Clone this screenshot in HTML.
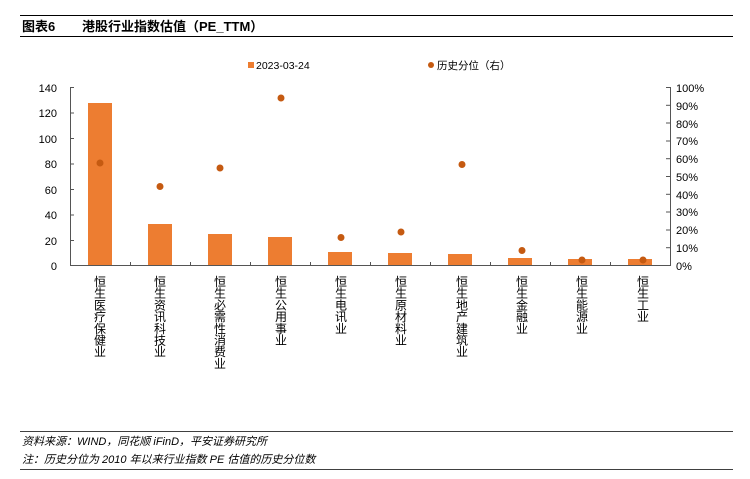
<!DOCTYPE html>
<html><head><meta charset="utf-8"><style>
body{margin:0;background:#fff;width:750px;height:474px;overflow:hidden;font-family:"Liberation Sans","Noto Sans CJK SC",sans-serif}
</style></head><body>
<svg width="750" height="474" xmlns="http://www.w3.org/2000/svg" font-family="Liberation Sans, Noto Sans CJK SC, sans-serif">
<line x1="20" y1="15.5" x2="733" y2="15.5" stroke="#000" stroke-width="1"/>
<line x1="20" y1="36.5" x2="733" y2="36.5" stroke="#000" stroke-width="1"/>
<text x="22" y="31" font-size="13" font-weight="bold">图表6</text>
<text x="82" y="31" font-size="13" font-weight="bold">港股行业指数估值（PE_TTM）</text>
<rect x="248" y="62" width="6" height="6" fill="#ED7D31"/>
<text x="256" y="69" font-size="10.5">2023-03-24</text>
<circle cx="431" cy="65" r="3" fill="#C55A11"/>
<text x="437" y="69" font-size="10.5">历史分位（右）</text>
<g font-size="11" text-anchor="end">
<text x="57" y="92">140</text><text x="57" y="117">120</text><text x="57" y="143">100</text><text x="57" y="168">80</text><text x="57" y="194">60</text><text x="57" y="219">40</text><text x="57" y="245">20</text><text x="57" y="270">0</text>
</g>
<g font-size="11">
<text x="676" y="92">100%</text><text x="676" y="110">90%</text><text x="676" y="128">80%</text><text x="676" y="145">70%</text><text x="676" y="163">60%</text><text x="676" y="181">50%</text><text x="676" y="199">40%</text><text x="676" y="216">30%</text><text x="676" y="234">20%</text><text x="676" y="252">10%</text><text x="676" y="270">0%</text>
</g>
<g stroke="#555" stroke-width="1">
<line x1="70.5" y1="87" x2="70.5" y2="266"/>
<line x1="70" y1="265.5" x2="670" y2="265.5"/>
<line x1="670.5" y1="87" x2="670.5" y2="266"/>
<line x1="70" y1="87.5" x2="74" y2="87.5"/><line x1="70" y1="113" x2="74" y2="113"/><line x1="70" y1="138.5" x2="74" y2="138.5"/><line x1="70" y1="164" x2="74" y2="164"/><line x1="70" y1="189.5" x2="74" y2="189.5"/><line x1="70" y1="215" x2="74" y2="215"/><line x1="70" y1="240.5" x2="74" y2="240.5"/>
<line x1="130.5" y1="262" x2="130.5" y2="266"/><line x1="190.5" y1="262" x2="190.5" y2="266"/><line x1="250.5" y1="262" x2="250.5" y2="266"/><line x1="310.5" y1="262" x2="310.5" y2="266"/><line x1="370.5" y1="262" x2="370.5" y2="266"/><line x1="430.5" y1="262" x2="430.5" y2="266"/><line x1="490.5" y1="262" x2="490.5" y2="266"/><line x1="550.5" y1="262" x2="550.5" y2="266"/><line x1="610.5" y1="262" x2="610.5" y2="266"/>
<line x1="666" y1="87.5" x2="670" y2="87.5"/><line x1="666" y1="105.3" x2="670" y2="105.3"/><line x1="666" y1="123" x2="670" y2="123"/><line x1="666" y1="141" x2="670" y2="141"/><line x1="666" y1="158.7" x2="670" y2="158.7"/><line x1="666" y1="176.5" x2="670" y2="176.5"/><line x1="666" y1="194.3" x2="670" y2="194.3"/><line x1="666" y1="212" x2="670" y2="212"/><line x1="666" y1="230" x2="670" y2="230"/><line x1="666" y1="247.7" x2="670" y2="247.7"/>
</g>
<g fill="#ED7D31">
<rect x="88" y="103" width="24" height="162"/>
<rect x="148" y="224" width="24" height="41"/>
<rect x="208" y="234" width="24" height="31"/>
<rect x="268" y="237" width="24" height="28"/>
<rect x="328" y="252" width="24" height="13"/>
<rect x="388" y="253" width="24" height="12"/>
<rect x="448" y="254" width="24" height="11"/>
<rect x="508" y="258" width="24" height="7"/>
<rect x="568" y="259" width="24" height="6"/>
<rect x="628" y="259" width="24" height="6"/>
</g>
<g fill="#C55A11">
<circle cx="100" cy="163" r="3.5"/><circle cx="160" cy="186.5" r="3.5"/><circle cx="220" cy="168" r="3.5"/><circle cx="281" cy="98" r="3.5"/><circle cx="341" cy="237.5" r="3.5"/><circle cx="401" cy="232" r="3.5"/><circle cx="462" cy="164.5" r="3.5"/><circle cx="522" cy="250.5" r="3.5"/><circle cx="582" cy="260" r="3.5"/><circle cx="643" cy="260" r="3.5"/>
</g>
<g font-size="12" text-anchor="middle">
<text x="100" y="286"><tspan x="100" dy="0">恒</tspan><tspan x="100" dy="11.7">生</tspan><tspan x="100" dy="11.7">医</tspan><tspan x="100" dy="11.7">疗</tspan><tspan x="100" dy="11.7">保</tspan><tspan x="100" dy="11.7">健</tspan><tspan x="100" dy="11.7">业</tspan></text>
<text x="160" y="286"><tspan x="160" dy="0">恒</tspan><tspan x="160" dy="11.7">生</tspan><tspan x="160" dy="11.7">资</tspan><tspan x="160" dy="11.7">讯</tspan><tspan x="160" dy="11.7">科</tspan><tspan x="160" dy="11.7">技</tspan><tspan x="160" dy="11.7">业</tspan></text>
<text x="220" y="286"><tspan x="220" dy="0">恒</tspan><tspan x="220" dy="11.7">生</tspan><tspan x="220" dy="11.7">必</tspan><tspan x="220" dy="11.7">需</tspan><tspan x="220" dy="11.7">性</tspan><tspan x="220" dy="11.7">消</tspan><tspan x="220" dy="11.7">费</tspan><tspan x="220" dy="11.7">业</tspan></text>
<text x="281" y="286"><tspan x="281" dy="0">恒</tspan><tspan x="281" dy="11.7">生</tspan><tspan x="281" dy="11.7">公</tspan><tspan x="281" dy="11.7">用</tspan><tspan x="281" dy="11.7">事</tspan><tspan x="281" dy="11.7">业</tspan></text>
<text x="341" y="286"><tspan x="341" dy="0">恒</tspan><tspan x="341" dy="11.7">生</tspan><tspan x="341" dy="11.7">电</tspan><tspan x="341" dy="11.7">讯</tspan><tspan x="341" dy="11.7">业</tspan></text>
<text x="401" y="286"><tspan x="401" dy="0">恒</tspan><tspan x="401" dy="11.7">生</tspan><tspan x="401" dy="11.7">原</tspan><tspan x="401" dy="11.7">材</tspan><tspan x="401" dy="11.7">料</tspan><tspan x="401" dy="11.7">业</tspan></text>
<text x="462" y="286"><tspan x="462" dy="0">恒</tspan><tspan x="462" dy="11.7">生</tspan><tspan x="462" dy="11.7">地</tspan><tspan x="462" dy="11.7">产</tspan><tspan x="462" dy="11.7">建</tspan><tspan x="462" dy="11.7">筑</tspan><tspan x="462" dy="11.7">业</tspan></text>
<text x="522" y="286"><tspan x="522" dy="0">恒</tspan><tspan x="522" dy="11.7">生</tspan><tspan x="522" dy="11.7">金</tspan><tspan x="522" dy="11.7">融</tspan><tspan x="522" dy="11.7">业</tspan></text>
<text x="582" y="286"><tspan x="582" dy="0">恒</tspan><tspan x="582" dy="11.7">生</tspan><tspan x="582" dy="11.7">能</tspan><tspan x="582" dy="11.7">源</tspan><tspan x="582" dy="11.7">业</tspan></text>
<text x="643" y="286"><tspan x="643" dy="0">恒</tspan><tspan x="643" dy="11.7">生</tspan><tspan x="643" dy="11.7">工</tspan><tspan x="643" dy="11.7">业</tspan></text>
</g>
<line x1="20" y1="431.5" x2="733" y2="431.5" stroke="#000" stroke-width="0.8"/>
<line x1="20" y1="469.5" x2="733" y2="469.5" stroke="#000" stroke-width="0.8"/>
<text x="22" y="445" font-size="11" font-style="italic">资料来源：WIND，同花顺 iFinD，平安证券研究所</text>
<text x="22" y="463" font-size="11" font-style="italic">注：历史分位为 2010 年以来行业指数 PE 估值的历史分位数</text>
</svg>
</body></html>
